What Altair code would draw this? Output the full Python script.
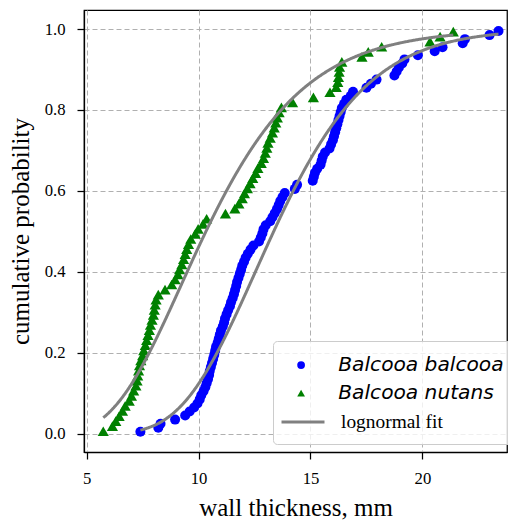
import math
import numpy as np
import pandas as pd
import altair as alt

# ---- data ----
balcooa_wall = [
    7.4, 8.2, 8.3, 8.95, 9.4, 9.6, 9.8, 9.95, 10.05, 10.12,
    10.22, 10.3, 10.36, 10.42, 10.47, 10.5, 10.55, 10.6, 10.65, 10.7,
    10.74, 10.78, 10.85, 10.9, 10.95, 11.0, 11.08, 11.14, 11.18, 11.25,
    11.32, 11.4, 11.45, 11.52, 11.58, 11.63, 11.68, 11.72, 11.78, 11.84,
    11.9, 11.95, 12.03, 12.1, 12.2, 12.32, 12.45, 12.7, 12.78, 12.85,
    12.9, 13.0, 13.2, 13.3, 13.4, 13.5, 13.58, 13.65, 13.75, 13.85,
    14.3, 14.4, 15.1, 15.15, 15.2, 15.3, 15.45, 15.5, 15.55, 15.65,
    15.85, 15.92, 16.0, 16.05, 16.1, 16.15, 16.2, 16.25, 16.3, 16.35,
    16.4, 16.5, 16.6, 16.8, 16.9, 17.5, 17.7, 17.95, 18.75, 18.85,
    18.95, 19.1, 19.2, 19.8, 20.55, 20.9, 21.8, 21.9, 23.0, 23.4,
]
nutans_wall = [
    5.74, 6.15, 6.3, 6.45, 6.6, 6.72, 6.9, 7.0, 7.1, 7.2,
    7.25, 7.28, 7.32, 7.36, 7.42, 7.5, 7.55, 7.62, 7.68, 7.74,
    7.8, 7.85, 7.92, 7.98, 8.02, 8.06, 8.1, 8.2, 8.5, 8.8,
    8.95, 9.08, 9.15, 9.25, 9.33, 9.4, 9.47, 9.55, 9.65, 9.85,
    9.98, 10.2, 10.36, 11.2, 11.62, 11.8, 11.95, 12.05, 12.18, 12.3,
    12.42, 12.55, 12.65, 12.8, 12.9, 12.98, 13.05, 13.1, 13.2, 13.3,
    13.38, 13.45, 13.52, 13.6, 13.7, 14.2, 15.13, 15.87, 16.15, 16.22,
    16.25, 16.28, 16.3, 16.4, 17.3, 17.58, 18.18, 20.34, 20.79, 21.38,
]
species_names = ["Balcooa balcooa", "Balcooa nutans"]
fit_label = "lognormal fit"
# lognormal fit parameters (mean and sd of log wall thickness)
balcooa_fit = (2.592, 0.25)
nutans_fit = (2.335, 0.335)

x_ticks = [5, 10, 15, 20]
y_ticks = [0.0, 0.2, 0.4, 0.6, 0.8, 1.0]
species_colors = ["#0000ff", "#008000"]
species_shapes = ["circle", "triangle-up"]
fit_color = "#808080"


def ecdf_rows(values, name):
    vals = sorted(values)
    n = len(vals)
    return [{"wall": v, "prob": (i + 0.5) / n, "label": name, "species": name}
            for i, v in enumerate(vals)]


def fit_rows(values, params, name):
    mu, s = params
    xs = np.linspace(min(values), max(values), 200)
    return [{"wall": float(x),
             "prob": 0.5 * (1 + math.erf((math.log(x) - mu) / (s * math.sqrt(2)))),
             "label": fit_label, "species": name} for x in xs]


pts = pd.DataFrame(ecdf_rows(balcooa_wall, species_names[0]) +
                   ecdf_rows(nutans_wall, species_names[1]))
fits = pd.DataFrame(fit_rows(balcooa_wall, balcooa_fit, species_names[0]) +
                    fit_rows(nutans_wall, nutans_fit, species_names[1]))

species_legend = alt.Legend(
    title=" ", titleOrient="bottom", titleFontSize=18, titlePadding=9,
    orient="none", legendX=189, legendY=331,
    fillColor="rgba(255,255,255,0.8)", strokeColor="#cccccc", cornerRadius=4,
    padding=14, symbolSize=60, symbolOffset=4, labelOffset=27, labelLimit=400,
    labelFontSize=20.2, labelFont="DejaVu Sans", labelFontStyle="italic",
    labelColor="black", rowPadding=7, symbolStrokeWidth=0, symbolOpacity=1,
)
fit_legend = alt.Legend(
    title=None, orient="none", legendX=196, legendY=389, padding=0,
    symbolType="stroke", symbolSize=1849, symbolStrokeWidth=3,
    symbolStrokeColor=fit_color, labelOffset=15, labelLimit=400,
    labelFontSize=19.4, labelFont="Liberation Serif", labelColor="black",
)

x_enc = alt.X("wall:Q",
              scale=alt.Scale(domain=[4.88, 23.78], nice=False, zero=False),
              axis=alt.Axis(values=x_ticks, format="d", title="wall thickness, mm",
                            labelPadding=11, titleBaseline="alphabetic", titleY=63))
y_enc = alt.Y("prob:Q",
              scale=alt.Scale(domain=[-0.045, 1.047], nice=False, zero=False),
              axis=alt.Axis(values=y_ticks, format=".1f", title="cumulative probability",
                            labelPadding=12, titleBaseline="alphabetic", titleX=-56))
color = alt.Color("label:N", scale=alt.Scale(domain=species_names, range=species_colors),
                  legend=species_legend)
shape = alt.Shape("label:N", scale=alt.Scale(domain=species_names, range=species_shapes),
                  legend=species_legend)

base_pts = alt.Chart(pts)
p1 = base_pts.transform_filter(alt.datum.species == species_names[0]).mark_point(
    filled=True, opacity=1, size=100).encode(x=x_enc, y=y_enc, color=color, shape=shape)
p2 = base_pts.transform_filter(alt.datum.species == species_names[1]).mark_point(
    filled=True, opacity=1, size=125).encode(x=x_enc, y=y_enc, color=color, shape=shape)
lines = alt.Chart(fits).mark_line(strokeWidth=3, color=fit_color).encode(
    x=x_enc, y=y_enc, detail="species:N",
    strokeDash=alt.StrokeDash("label:N", scale=alt.Scale(domain=[fit_label], range=[[1, 0]]),
                              legend=fit_legend))

chart = alt.layer(p1, p2, lines).properties(
    width=423, height=442,
    padding={"left": 84, "top": 10, "right": 1, "bottom": 73},
    autosize="none",
).configure_view(
    stroke="black", strokeWidth=1.25
).configure_axis(
    labelFont="Liberation Serif", labelFontSize=16.7, labelColor="black",
    titleFont="Liberation Serif", titleFontSize=25, titleFontWeight="normal", titleColor="black",
    domainColor="black", domainWidth=1.25, tickColor="black", tickWidth=1.25, tickSize=7,
    gridColor="#b0b0b0", gridDash=[5, 3], gridWidth=1,
)

chart.save("out.html", embed_options={"renderer": "svg", "actions": False})
